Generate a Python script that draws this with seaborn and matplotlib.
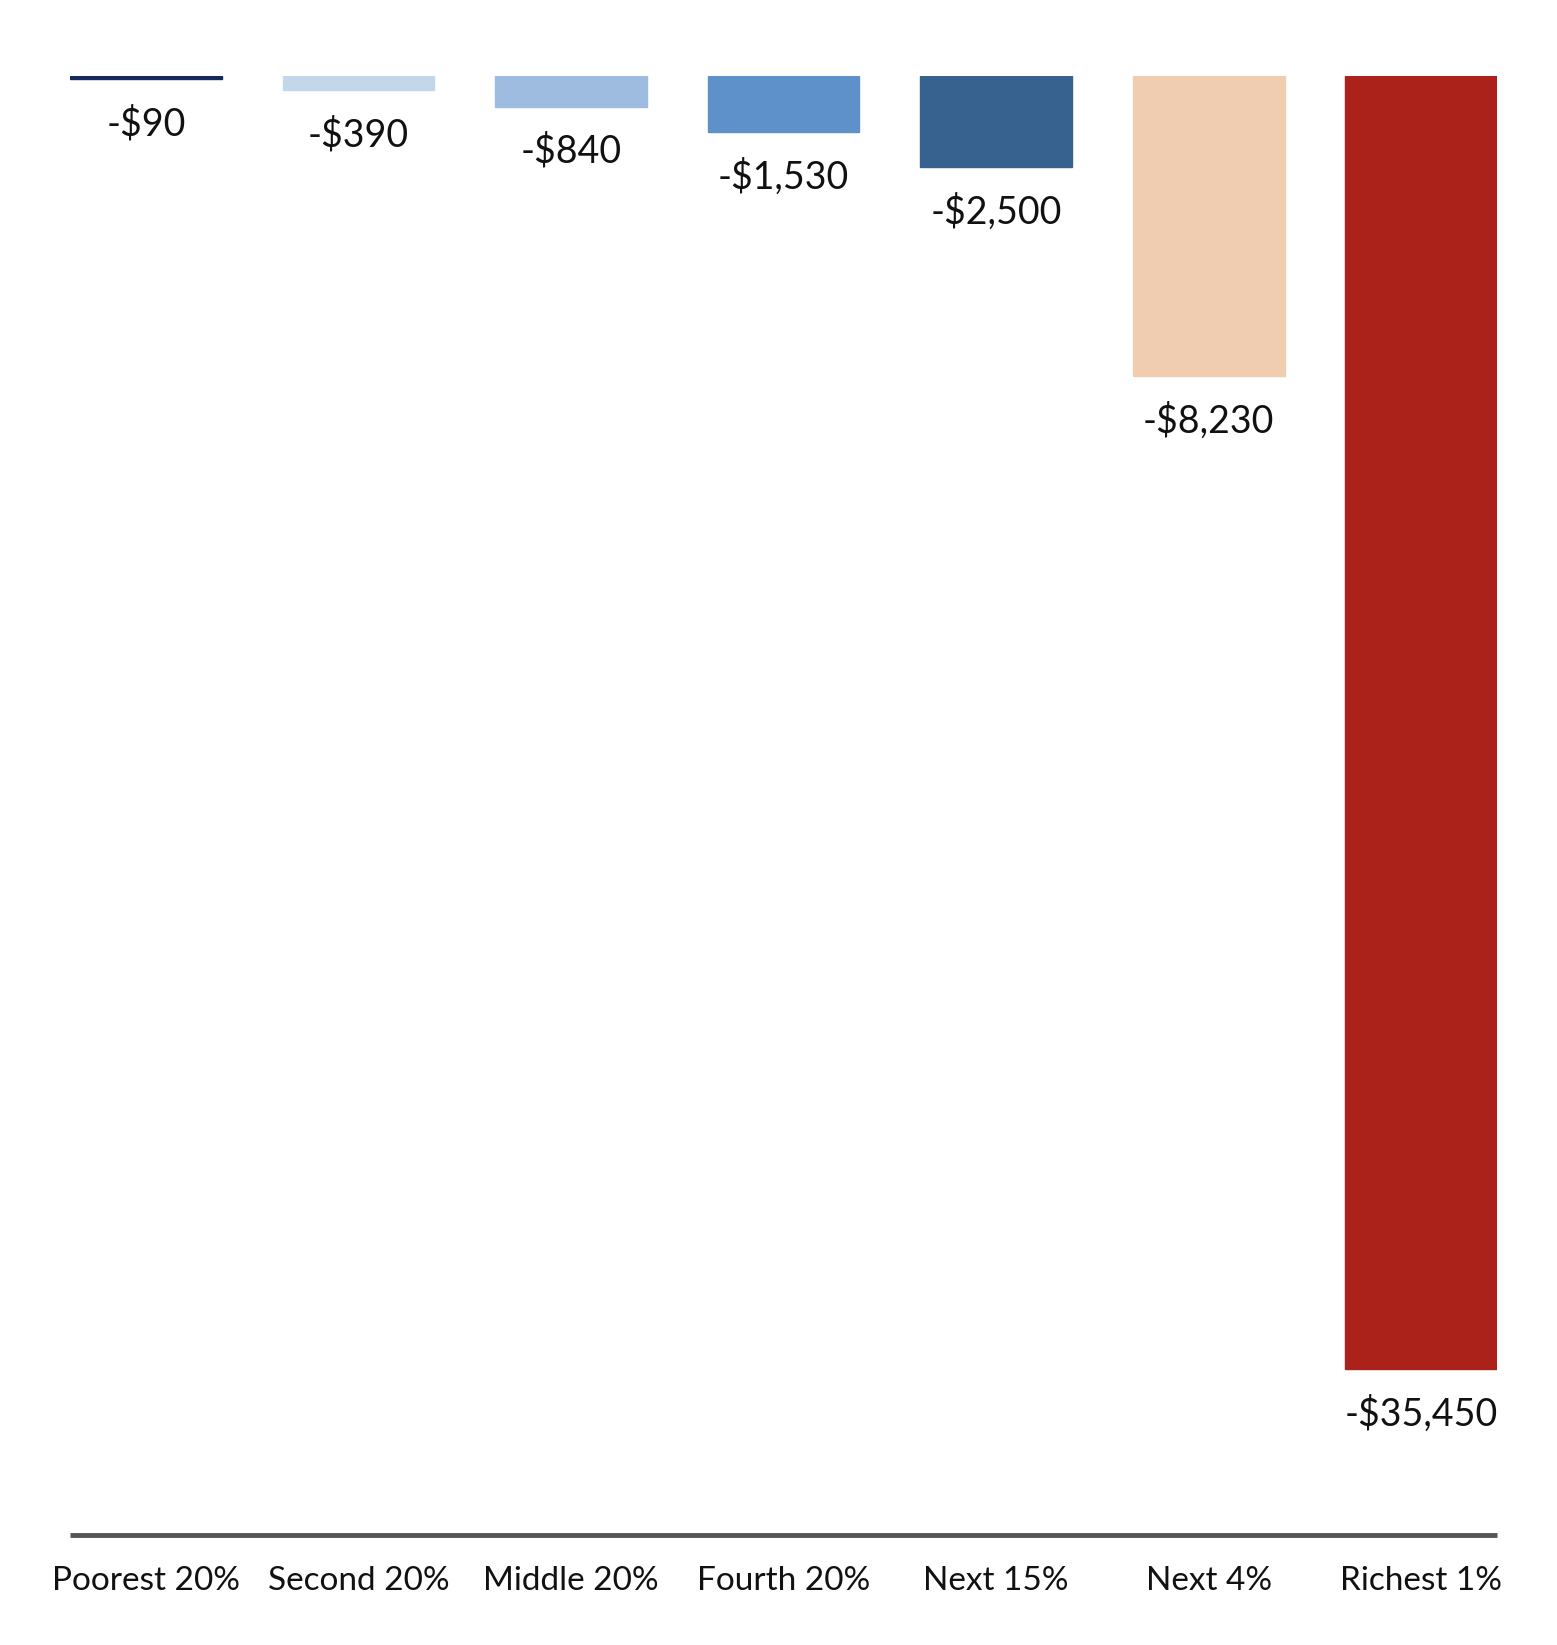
import pandas as pd
import matplotlib.pyplot as plt
import seaborn as sns

# ---- data ----
groups = ["Poorest 20%", "Second 20%", "Middle 20%", "Fourth 20%",
          "Next 15%", "Next 4%", "Richest 1%"]
change = [-90, -390, -840, -1530, -2500, -8230, -35450]
bar_colors = ["#14295e", "#c2d7ea", "#9dbcdf", "#5e90c9",
              "#37618f", "#f0cdb1", "#aa2219"]

df = pd.DataFrame({"group": groups, "change": change})

sns.set_theme(style="white")
plt.rcParams["font.family"] = ["Lato", "DejaVu Sans"]

fig = plt.figure(figsize=(15.57, 16.45), dpi=100)
ax = fig.add_axes([0.045, 0.0669, 0.9165, 0.8869])

sns.barplot(data=df, x="group", y="change", hue="group",
            palette=bar_colors, order=groups, hue_order=groups,
            width=0.714, legend=False, saturation=1, ax=ax)

# thin edge in the fill colour so the tiny first bar stays visible
for cont, c in zip(ax.containers, bar_colors):
    for b in cont:
        b.set_edgecolor(c)
        b.set_linewidth(1)

for cont in ax.containers:
    vals = [b.get_height() for b in cont]
    ax.bar_label(cont, labels=[f"-${abs(v):,.0f}" for v in vals],
                 padding=19, fontsize=27, color="#111111")

ax.set_ylim(-40000, 0)
ax.set_xlim(-0.357, 6.357)
ax.set_xlabel("")
ax.set_ylabel("")
ax.set_yticks([])

for s in ["top", "left", "right"]:
    ax.spines[s].set_visible(False)
ax.spines["bottom"].set_color("#555555")
ax.spines["bottom"].set_linewidth(3.5)
ax.spines["bottom"].set_capstyle("butt")
ax.tick_params(axis="x", length=0, pad=22, labelsize=24, labelcolor="#111111")

fig.savefig("out.png", dpi=100, facecolor="white")
plt.close()
